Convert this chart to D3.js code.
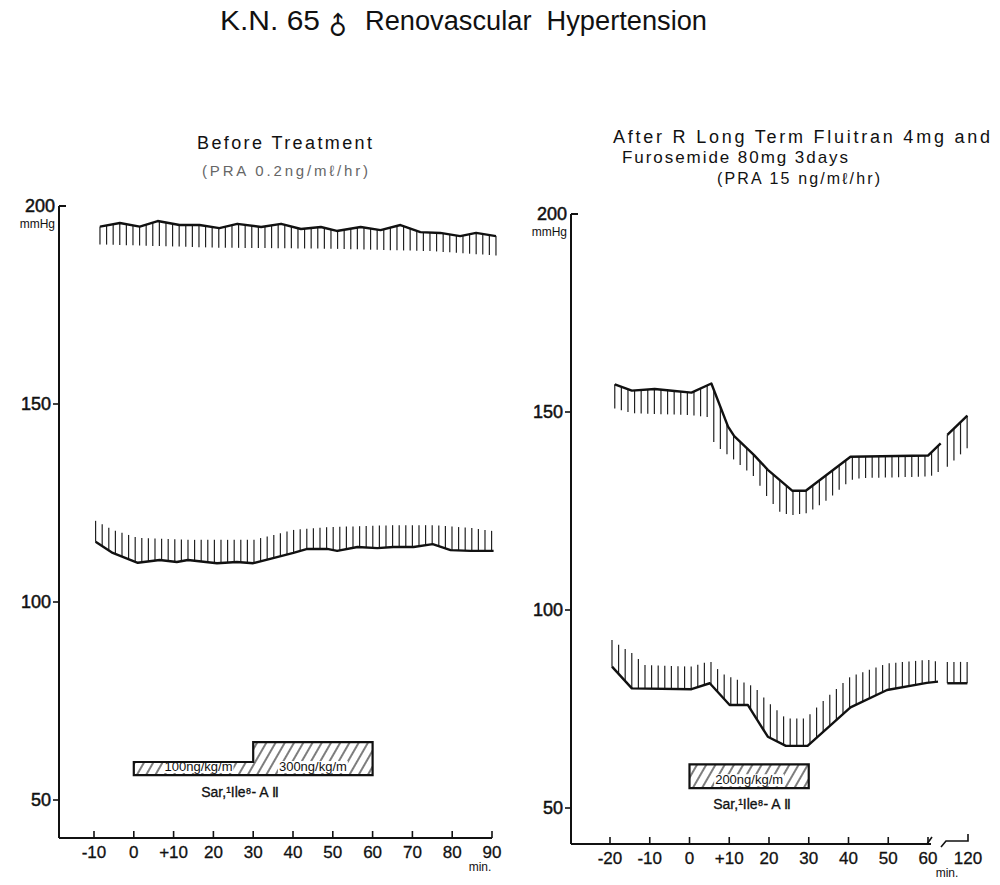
<!DOCTYPE html>
<html><head><meta charset="utf-8">
<script src="https://cdn.jsdelivr.net/npm/d3@7"></script>
<style>body{margin:0;background:#fff}</style>
</head><body>
<svg id="c" width="1000" height="885" xmlns="http://www.w3.org/2000/svg"></svg>
<script>
// ---------------- data ----------------
const yTicks = [50, 100, 150, 200];
const leftTicks = [-10, 0, 10, 20, 30, 40, 50, 60, 70, 80, 90];
const leftTickLabels = ["-10", "0", "+10", "20", "30", "40", "50", "60", "70", "80", "90"];
const rightTicks = [-20, -10, 0, 10, 20, 30, 40, 50, 60];
const rightTickLabels = ["-20", "-10", "0", "+10", "20", "30", "40", "50", "60"];
const rightTickEnd = 120;

// Before treatment: systolic trace (top line) and hatch lower edge
const leftSysT = [-8.5, -3.5, 1.5, 6, 11.5, 16.5, 21.5, 26, 32, 37, 42, 47, 51, 57, 62, 67, 72, 77, 82, 86, 91];
const leftSys = [194.8, 195.7, 194.8, 196.2, 195.2, 195.2, 194.4, 195.5, 194.7, 195.5, 194.2, 194.7, 193.7, 194.7, 193.9, 195.2, 193.4, 193.2, 192.4, 193.2, 192.4];
const leftSysEdgeT = [-8.5, 20, 50, 75, 91];
const leftSysEdge = [190.3, 189.5, 189.2, 188.6, 187.5];

// Before treatment: diastolic trace (bottom line) and hatch upper edge
const leftDiaT = [-9.6, -5.3, 1, 6.5, 10.8, 13.6, 20.9, 25.9, 30, 35, 40.1, 43.6, 48.6, 51.1, 56.2, 61.2, 65.2, 70.3, 75.1, 79.6, 84.6, 90.4];
const leftDia = [115.2, 112.4, 109.9, 110.6, 110.1, 110.6, 109.8, 110.1, 109.8, 111.1, 112.4, 113.4, 113.4, 112.9, 113.9, 113.6, 113.9, 113.9, 114.6, 113.1, 112.9, 112.9];
const leftDiaEdgeT = [-9.6, -5.3, 1, 14.1, 30, 35, 40.1, 48.6, 65.2, 75.1, 84.6, 90.4];
const leftDiaEdge = [120.5, 118.2, 116.2, 115.7, 115.7, 116.9, 118.2, 118.9, 119.4, 119.4, 118.7, 117.9];

// After treatment: systolic
const rightSysT = [-18.8, -14.5, -8.75, -3.75, 0.5, 5.5, 9.7, 11.25, 16.25, 19.7, 25.9, 29.25, 40.5, 60, 79];
const rightSys = [157.0, 155.4, 155.8, 155.3, 154.9, 157.2, 146.3, 143.9, 139.1, 135.4, 130.1, 130.1, 138.7, 139.0, 142.1];
const rightSys2T = [89, 119];
const rightSys2 = [144.2, 149.1];
const rightSysEdgeT = [-18.8, -14.5, 0.5, 4.5, 5.6, 8, 11.25, 16.25, 19.7, 23, 25.9, 29.7, 34.7, 40.5, 43, 60, 70, 79, 89, 119];
const rightSysEdge = [150.9, 149.7, 149.2, 148.7, 143, 140.4, 137.9, 133.7, 128.3, 124.5, 124.0, 124.5, 127.8, 132.8, 133.3, 133.7, 134.1, 135.4, 136.2, 140.9];

// After treatment: diastolic
const rightDiaT = [-19.5, -14.5, 0.5, 5.1, 10.1, 14.7, 19.7, 24.25, 29.7, 40.5, 49.7, 59.7, 75];
const rightDia = [85.7, 80.2, 80.0, 81.5, 76.0, 76.0, 68.0, 65.7, 65.7, 75.4, 79.8, 81.6, 81.9];
const rightDia2T = [89, 119];
const rightDia2 = [81.5, 81.5];
const rightDiaEdgeT = [-19.5, -17.8, -14.5, -11.2, 0.5, 3.4, 5.5, 8, 12.2, 16.3, 19.7, 24.25, 29.25, 31.3, 34.7, 40.5, 49.7, 59.7, 75, 89, 119];
const rightDiaEdge = [92.4, 91.2, 89.1, 86.1, 85.7, 86.6, 86.9, 84.0, 82.3, 80.6, 76.8, 72.6, 72.6, 74.7, 78.1, 83.2, 86.5, 87.4, 86.9, 86.9, 86.9];

// Infusions (Sar1,Ile8-AII): start, end (min), box top (mmHg)
const leftDoseStart = [0, 30];
const leftDoseEnd = [30, 60];
const leftDoseTop = [59.6, 64.6];
const leftDoseLabels = ["100ng/kg/m", "300ng/kg/m"];
const leftDoseBase = 56.3;
const rightDoseStart = [0];
const rightDoseEnd = [30];
const rightDoseTop = [61.0];
const rightDoseLabels = ["200ng/kg/m"];
const rightDoseBase = 55.0;

// ---------------- drawing ----------------
const svg = d3.select("#c");
const FONT = "'Liberation Sans', Arial, Helvetica, sans-serif";
const INK = "#111";

const defs = svg.append("defs");
const pat = defs.append("pattern").attr("id", "diag").attr("patternUnits", "userSpaceOnUse")
  .attr("width", 8).attr("height", 8).attr("patternTransform", "rotate(30)");
pat.append("line").attr("x1", 2).attr("y1", 0).attr("x2", 2).attr("y2", 8)
  .attr("stroke", INK).attr("stroke-width", 1.1);

// scales
const xL = d3.scaleLinear().domain([-10, 90]).range([94, 492]);
const yL = d3.scaleLinear().domain([50, 200]).range([800, 206]);
const xR = d3.scaleLinear().domain([-20, 60, 120]).range([610, 928, 968]);
const yR = d3.scaleLinear().domain([50, 200]).range([808, 214]);

// title
svg.append("text").attr("x", 220).attr("y", 30).attr("font-family", FONT).attr("font-size", 27)
  .attr("fill", INK).attr("textLength", 100).attr("lengthAdjust", "spacingAndGlyphs").text("K.N. 65");
svg.append("text").attr("x", 338).attr("y", 26).attr("font-family", "'DejaVu Sans', sans-serif")
  .attr("font-size", 25).attr("fill", INK).attr("text-anchor", "middle").attr("dominant-baseline", "central")
  .attr("transform", "rotate(-45,338,26)").text("♂");
svg.append("text").attr("x", 365).attr("y", 30).attr("font-family", FONT).attr("font-size", 27)
  .attr("fill", INK).attr("textLength", 342).attr("lengthAdjust", "spacingAndGlyphs").attr("xml:space", "preserve")
  .text("Renovascular  Hypertension");

// subtitles
svg.append("text").attr("x", 197).attr("y", 149).attr("font-family", FONT).attr("font-size", 18)
  .attr("fill", INK).attr("textLength", 175).attr("lengthAdjust", "spacing").text("Before Treatment");
svg.append("text").attr("x", 202).attr("y", 176).attr("font-family", FONT).attr("font-size", 15)
  .attr("fill", "#666").attr("textLength", 166).attr("lengthAdjust", "spacing").text("(PRA 0.2ng/mℓ/hr)");
svg.append("text").attr("x", 613).attr("y", 143).attr("font-family", FONT).attr("font-size", 18)
  .attr("fill", INK).attr("textLength", 377).attr("lengthAdjust", "spacing").text("After R Long Term Fluitran 4mg and");
svg.append("text").attr("x", 622).attr("y", 163).attr("font-family", FONT).attr("font-size", 17)
  .attr("fill", INK).attr("textLength", 226).attr("lengthAdjust", "spacing").text("Furosemide 80mg 3days");
svg.append("text").attr("x", 717).attr("y", 184).attr("font-family", FONT).attr("font-size", 16)
  .attr("fill", INK).attr("textLength", 163).attr("lengthAdjust", "spacing").text("(PRA 15 ng/mℓ/hr)");

function panel(x, y, axX, axY, ticks, tickLabels, opts) {
  const g = svg.append("g");
  const top = y(200);
  // y axis
  g.append("line").attr("x1", axX).attr("x2", axX).attr("y1", top).attr("y2", axY)
    .attr("stroke", INK).attr("stroke-width", 2);
  g.append("line").attr("x1", axX).attr("x2", axX + 7).attr("y1", top).attr("y2", top)
    .attr("stroke", INK).attr("stroke-width", 2);
  g.selectAll(".yt").data(yTicks.filter(d => d < 200)).join("line")
    .attr("x1", axX - 6).attr("x2", axX).attr("y1", d => y(d)).attr("y2", d => y(d))
    .attr("stroke", INK).attr("stroke-width", 1.6);
  g.selectAll(".yl").data(yTicks).join("text")
    .attr("x", d => d === 200 ? axX - 4 : axX - 8).attr("y", d => y(d) + 6)
    .attr("text-anchor", "end").attr("font-family", FONT).attr("font-size", 18).attr("fill", INK)
    .attr("stroke", INK).attr("stroke-width", 0.5)
    .text(d => d);
  g.append("text").attr("x", axX - 4).attr("y", top + 22).attr("text-anchor", "end")
    .attr("font-family", FONT).attr("font-size", 12).attr("fill", INK).text("mmHg");
  // x axis
  const xEnd = opts.xAxisEnd;
  g.append("line").attr("x1", axX).attr("x2", xEnd).attr("y1", axY).attr("y2", axY)
    .attr("stroke", INK).attr("stroke-width", 2);
  g.selectAll(".xt").data(ticks).join("line")
    .attr("x1", d => x(d)).attr("x2", d => x(d)).attr("y1", axY - 7).attr("y2", axY)
    .attr("stroke", INK).attr("stroke-width", 1.6);
  g.selectAll(".xl").data(ticks).join("text")
    .attr("x", d => x(d)).attr("y", axY + 20).attr("text-anchor", "middle")
    .attr("font-family", FONT).attr("font-size", 17).attr("fill", INK)
    .attr("stroke", INK).attr("stroke-width", 0.3)
    .text((d, i) => tickLabels[i]);
  g.append("text").attr("x", opts.minX).attr("y", axY + 33).attr("text-anchor", "middle")
    .attr("font-family", FONT).attr("font-size", 12).attr("fill", INK).text("min.");
  return g;
}

const gL = panel(xL, yL, 59, 838, leftTicks, leftTickLabels, { xAxisEnd: xL(90), minX: 480 });
const gR = panel(xR, yR, 571, 844, rightTicks, rightTickLabels, { xAxisEnd: xR(60) + 3, minX: 947 });
// right axis break & 120 segment
gR.append("path").attr("d", `M${xR(60) - 1},${844} l5,-7`).attr("stroke", INK).attr("stroke-width", 1.6).attr("fill", "none");
gR.append("path").attr("d", `M${xR(60) + 13},${847} l5,-6 L${xR(120)},${841} L${xR(120)},${834}`)
  .attr("stroke", INK).attr("stroke-width", 1.6).attr("fill", "none");
gR.append("text").attr("x", xR(rightTickEnd)).attr("y", 864).attr("text-anchor", "middle")
  .attr("font-family", FONT).attr("font-size", 17).attr("fill", INK)
  .attr("stroke", INK).attr("stroke-width", 0.3).text(String(rightTickEnd));

// traces
function trace(g, x, y, T, V) {
  g.append("path").datum(d3.zip(T, V))
    .attr("d", d3.line().x(d => x(d[0])).y(d => y(d[1])))
    .attr("fill", "none").attr("stroke", INK).attr("stroke-width", 2.4).attr("stroke-linejoin", "round");
}
function hatch(g, x, y, T, V, ET, EV, t0, t1) {
  const fLine = d3.scaleLinear().domain(T).range(V).clamp(true);
  const fEdge = d3.scaleLinear().domain(ET).range(EV).clamp(true);
  const xs = d3.range(x(t0), x(t1) + 0.5, 6.6);
  g.append("g").selectAll("line").data(xs).join("line")
    .attr("x1", d => d).attr("x2", d => d)
    .attr("y1", d => y(fLine(x.invert(d))))
    .attr("y2", d => y(fEdge(x.invert(d))))
    .attr("stroke", "#222").attr("stroke-width", 1.2);
}

hatch(gL, xL, yL, leftSysT, leftSys, leftSysEdgeT, leftSysEdge, leftSysT[0], leftSysT[leftSysT.length - 1]);
trace(gL, xL, yL, leftSysT, leftSys);
hatch(gL, xL, yL, leftDiaT, leftDia, leftDiaEdgeT, leftDiaEdge, leftDiaT[0], leftDiaT[leftDiaT.length - 1]);
trace(gL, xL, yL, leftDiaT, leftDia);

hatch(gR, xR, yR, rightSysT, rightSys, rightSysEdgeT, rightSysEdge, rightSysT[0], rightSysT[rightSysT.length - 1]);
trace(gR, xR, yR, rightSysT, rightSys);
hatch(gR, xR, yR, rightSys2T, rightSys2, rightSysEdgeT, rightSysEdge, rightSys2T[0], rightSys2T[1]);
trace(gR, xR, yR, rightSys2T, rightSys2);
hatch(gR, xR, yR, rightDiaT, rightDia, rightDiaEdgeT, rightDiaEdge, rightDiaT[0], rightDiaT[rightDiaT.length - 1]);
trace(gR, xR, yR, rightDiaT, rightDia);
hatch(gR, xR, yR, rightDia2T, rightDia2, rightDiaEdgeT, rightDiaEdge, rightDia2T[0], rightDia2T[1]);
trace(gR, xR, yR, rightDia2T, rightDia2);

// infusion boxes
function doses(g, x, y, S, E, Tp, labels, base, labelX, labelY) {
  let d = `M${x(S[0])},${y(base)}`;
  S.forEach((s, i) => { d += ` L${x(s)},${y(Tp[i])} L${x(E[i])},${y(Tp[i])}`; });
  d += ` L${x(E[E.length - 1])},${y(base)} Z`;
  g.append("path").attr("d", d).attr("fill", "url(#diag)").attr("stroke", "none");
  const lg = g.append("g");
  labels.forEach((lab, i) => {
    const cx = (x(S[i]) + x(E[i])) / 2 + (i === 0 && labels.length > 1 ? 5 : 0);
    const t = lg.append("text").attr("x", cx).attr("y", y(base) - 4).attr("text-anchor", "middle")
      .attr("font-family", FONT).attr("font-size", 13).attr("fill", INK).text(lab);
    const bb = t.node().getBBox();
    lg.insert("rect", "text").attr("x", bb.x - 1).attr("y", bb.y + 2).attr("width", bb.width + 2)
      .attr("height", bb.height - 3).attr("fill", "#fff");
  });
  g.append("path").attr("d", d).attr("fill", "none").attr("stroke", INK).attr("stroke-width", 2.2);
  g.append("text").attr("x", labelX).attr("y", labelY).attr("text-anchor", "middle")
    .attr("font-family", FONT).attr("font-size", 14).attr("fill", INK)
    .attr("stroke", INK).attr("stroke-width", 0.3)
    .text("Sar,¹Ile⁸- A Ⅱ");
}
doses(gL, xL, yL, leftDoseStart, leftDoseEnd, leftDoseTop, leftDoseLabels, leftDoseBase, 240, 797);
doses(gR, xR, yR, rightDoseStart, rightDoseEnd, rightDoseTop, rightDoseLabels, rightDoseBase, 752, 809);
</script>
</body></html>
